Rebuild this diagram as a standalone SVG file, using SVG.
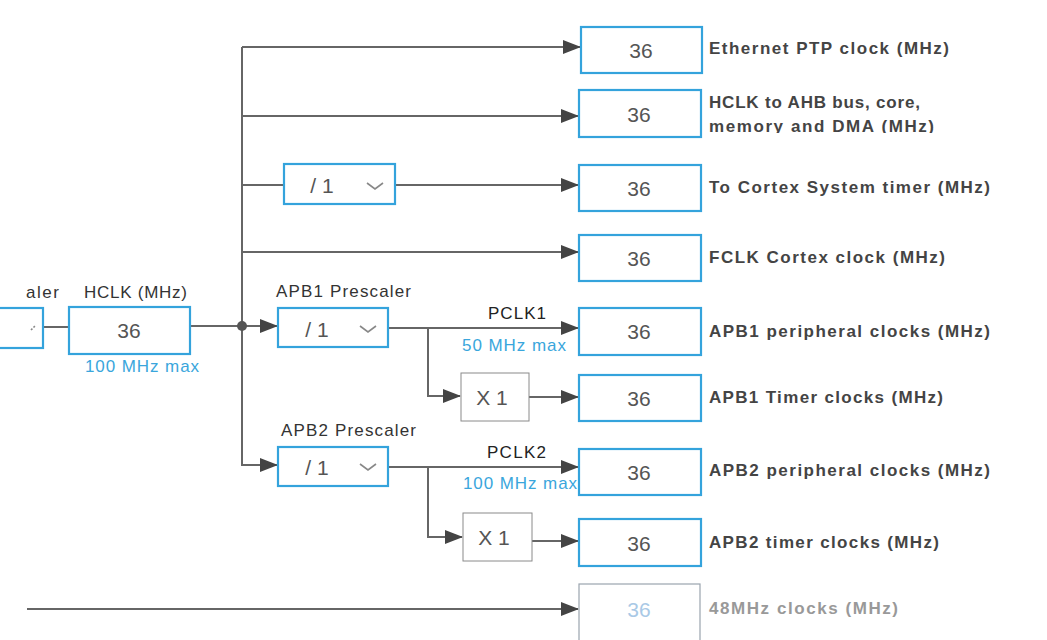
<svg xmlns="http://www.w3.org/2000/svg" width="1047" height="640" viewBox="0 0 1047 640">
<style>
.bg{fill:#fff}
.box{fill:#fff;stroke:#34a3dc;stroke-width:2.2}
.gbox{fill:#fff;stroke:#9aa4ae;stroke-width:1.2}
.mbox{fill:#fff;stroke:#8a8a8a;stroke-width:1}
.ln{fill:none;stroke:#666;stroke-width:2}
.val{font-family:"Liberation Sans",Arial,sans-serif;font-size:21px;fill:#555;text-anchor:middle}
.lbl{font-family:"Liberation Sans",Arial,sans-serif;font-size:17px;font-weight:bold;fill:#444}
.cap{font-family:"Liberation Sans",Arial,sans-serif;font-size:17px;fill:#333}
.blue{font-family:"Liberation Sans",Arial,sans-serif;font-size:17px;fill:#3aa6dc}
.chev{fill:none;stroke:#888;stroke-width:1.6}
</style>
<defs>
<marker id="ah" markerWidth="18" markerHeight="14" refX="17" refY="7" orient="auto" markerUnits="userSpaceOnUse">
<path d="M0,0 L18,7 L0,14 z" fill="#444"/>
</marker>
<clipPath id="clipHclk"><rect x="700" y="85" width="300" height="48"/></clipPath>
</defs>
<rect class="bg" x="0" y="0" width="1047" height="640"/>

<g id="connectors">
<line class="ln" x1="43" y1="327" x2="69" y2="327"/>
<line class="ln" x1="190" y1="326" x2="242" y2="326"/>
<path class="ln" d="M242,47 V466"/>
<line class="ln" x1="242" y1="47" x2="580" y2="47" marker-end="url(#ah)"/>
<line class="ln" x1="242" y1="116" x2="578" y2="116" marker-end="url(#ah)"/>
<line class="ln" x1="242" y1="185" x2="284" y2="185"/>
<line class="ln" x1="395" y1="185" x2="578" y2="185" marker-end="url(#ah)"/>
<line class="ln" x1="242" y1="252" x2="578" y2="252" marker-end="url(#ah)"/>
<line class="ln" x1="242" y1="326" x2="277" y2="326" marker-end="url(#ah)"/>
<path class="ln" d="M242,465 H277" marker-end="url(#ah)"/>
<line class="ln" x1="388" y1="328" x2="578" y2="328" marker-end="url(#ah)"/>
<path class="ln" d="M428,328 V396 H460" marker-end="url(#ah)"/>
<line class="ln" x1="529" y1="397" x2="578" y2="397" marker-end="url(#ah)"/>
<line class="ln" x1="388" y1="467" x2="578" y2="467" marker-end="url(#ah)"/>
<path class="ln" d="M428,467 V537 H462" marker-end="url(#ah)"/>
<line class="ln" x1="532" y1="541" x2="578" y2="541" marker-end="url(#ah)"/>
<line class="ln" x1="27" y1="609" x2="578" y2="609" marker-end="url(#ah)"/>
<circle cx="242" cy="326" r="5" fill="#555"/>
</g>

<g id="ahb-prescaler">
<rect class="box" x="-20" y="308" width="63" height="40"/>
<text class="cap" x="26" y="298" textLength="33" lengthAdjust="spacing">aler</text>
<path class="chev" d="M31,330 L36,325" stroke-dasharray="2,1.5"/>
</g>

<g id="hclk">
<text class="cap" x="84" y="298" textLength="103" lengthAdjust="spacing">HCLK (MHz)</text>
<rect class="box" x="69" y="307" width="121" height="47"/>
<text class="val" x="129" y="338">36</text>
<text class="blue" x="85" y="372" textLength="114" lengthAdjust="spacing">100 MHz max</text>
</g>

<g id="cortex-prescaler">
<rect class="box" x="284" y="164" width="111" height="40"/>
<text class="val" x="322" y="193">/ 1</text>
<path class="chev" d="M367,183 L375,189 L383,183"/>
</g>

<g id="apb1-prescaler">
<text class="cap" x="276" y="297" textLength="135" lengthAdjust="spacing">APB1 Prescaler</text>
<rect class="box" x="278" y="308" width="110" height="39"/>
<text class="val" x="317" y="337">/ 1</text>
<path class="chev" d="M360,326 L368,332 L376,326"/>
</g>

<g id="apb2-prescaler">
<text class="cap" x="281" y="436" textLength="135" lengthAdjust="spacing">APB2 Prescaler</text>
<rect class="box" x="278" y="447" width="110" height="39"/>
<text class="val" x="317" y="475">/ 1</text>
<path class="chev" d="M360,464 L368,470 L376,464"/>
</g>

<g id="pclk1">
<text class="cap" x="488" y="319" textLength="58" lengthAdjust="spacing" style="fill:#222">PCLK1</text>
<text class="blue" x="462" y="351" textLength="104" lengthAdjust="spacing">50 MHz max</text>
</g>
<g id="pclk2">
<text class="cap" x="487" y="458" textLength="59" lengthAdjust="spacing" style="fill:#222">PCLK2</text>
<text class="blue" x="463" y="489" textLength="114" lengthAdjust="spacing">100 MHz max</text>
</g>

<g id="apb1-timer-mult">
<rect class="mbox" x="461" y="373" width="68" height="48"/>
<text class="val" x="492" y="405">X 1</text>
</g>
<g id="apb2-timer-mult">
<rect class="mbox" x="463" y="513" width="69" height="48"/>
<text class="val" x="494" y="545">X 1</text>
</g>

<g id="out-ethernet">
<rect class="box" x="581" y="27" width="121" height="46"/>
<text class="val" x="641" y="58">36</text>
<text class="lbl" x="709" y="54" textLength="240" lengthAdjust="spacing">Ethernet PTP clock (MHz)</text>
</g>
<g id="out-hclk">
<rect class="box" x="579" y="90" width="122" height="47"/>
<text class="val" x="639" y="122">36</text>
<g clip-path="url(#clipHclk)">
<text class="lbl" x="709" y="108" textLength="211" lengthAdjust="spacing">HCLK to AHB bus, core,</text>
<text class="lbl" x="709" y="132" textLength="225" lengthAdjust="spacing">memory and DMA (MHz)</text>
</g>
</g>
<g id="out-systick">
<rect class="box" x="579" y="165" width="122" height="46"/>
<text class="val" x="639" y="196">36</text>
<text class="lbl" x="709" y="193" textLength="281" lengthAdjust="spacing">To Cortex System timer (MHz)</text>
</g>
<g id="out-fclk">
<rect class="box" x="579" y="235" width="122" height="46"/>
<text class="val" x="639" y="266">36</text>
<text class="lbl" x="709" y="263" textLength="236" lengthAdjust="spacing">FCLK Cortex clock (MHz)</text>
</g>
<g id="out-apb1-periph">
<rect class="box" x="579" y="308" width="122" height="47"/>
<text class="val" x="639" y="339">36</text>
<text class="lbl" x="709" y="337" textLength="281" lengthAdjust="spacing">APB1 peripheral clocks (MHz)</text>
</g>
<g id="out-apb1-timer">
<rect class="box" x="579" y="375" width="122" height="46"/>
<text class="val" x="639" y="406">36</text>
<text class="lbl" x="709" y="403" textLength="234" lengthAdjust="spacing">APB1 Timer clocks (MHz)</text>
</g>
<g id="out-apb2-periph">
<rect class="box" x="579" y="449" width="122" height="46"/>
<text class="val" x="639" y="480">36</text>
<text class="lbl" x="709" y="476" textLength="281" lengthAdjust="spacing">APB2 peripheral clocks (MHz)</text>
</g>
<g id="out-apb2-timer">
<rect class="box" x="579" y="519" width="122" height="47"/>
<text class="val" x="639" y="551">36</text>
<text class="lbl" x="709" y="548" textLength="230" lengthAdjust="spacing">APB2 timer clocks (MHz)</text>
</g>
<g id="out-48mhz">
<rect class="gbox" x="579" y="584" width="121" height="80"/>
<text class="val" x="639" y="617" style="fill:#a9c9e6">36</text>
<text class="lbl" x="709" y="614" textLength="189" lengthAdjust="spacing" style="fill:#999">48MHz clocks (MHz)</text>
</g>
</svg>
